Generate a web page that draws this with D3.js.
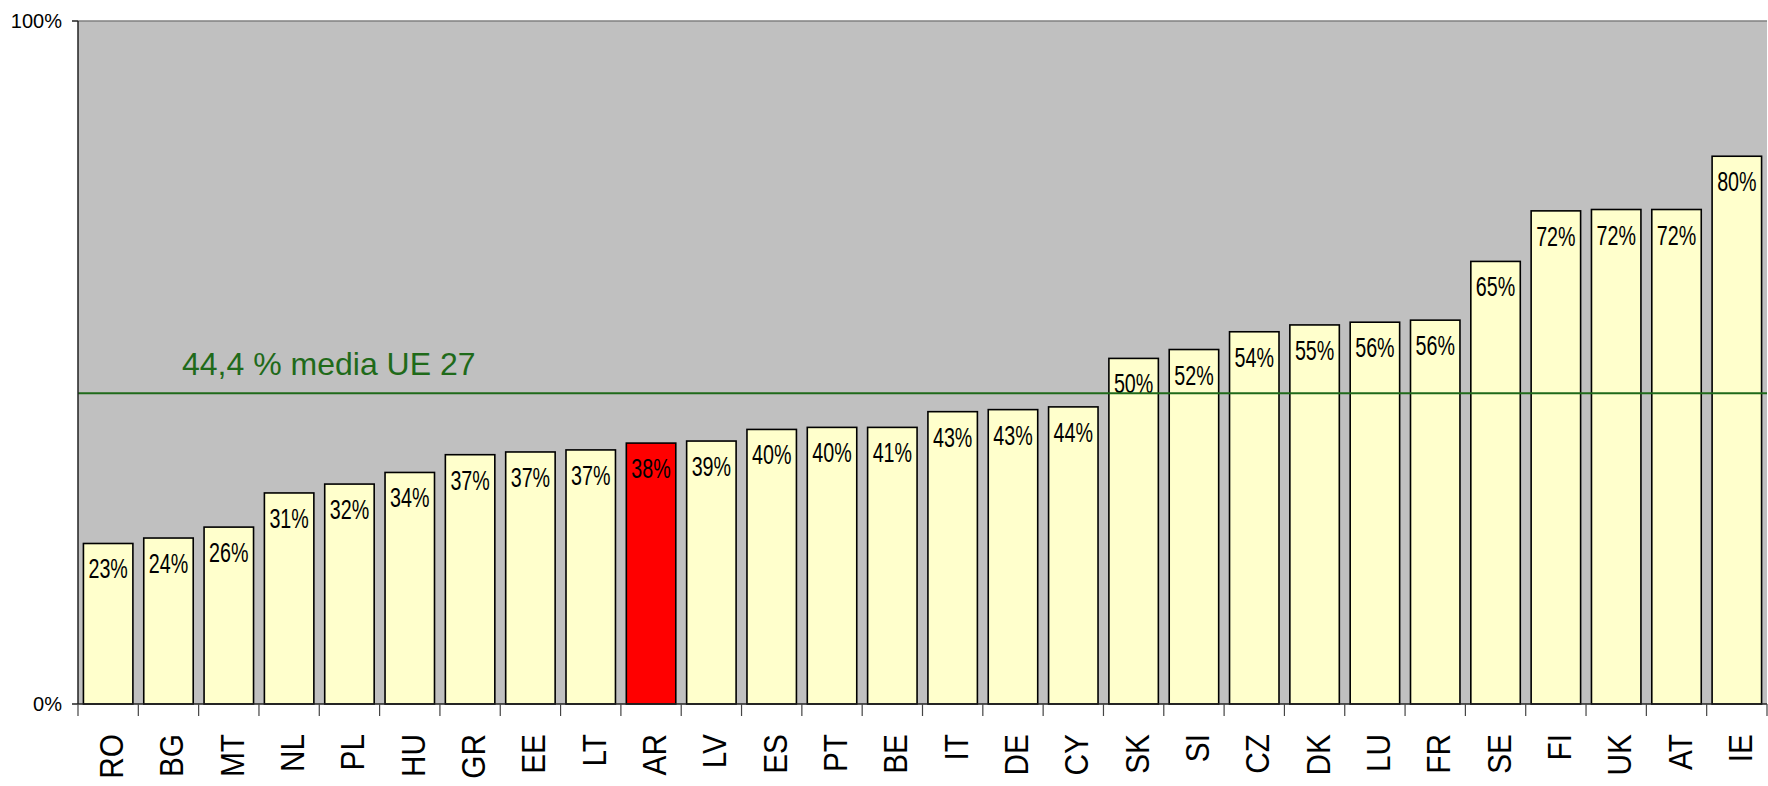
<!DOCTYPE html>
<html>
<head>
<meta charset="utf-8">
<script src="https://cdn.jsdelivr.net/npm/d3@7"></script>
<style>
	body { margin: 0; background: #fff; }
	svg { display: block; font-family: "Liberation Sans", Arial, sans-serif; }
</style>
</head>
<body>
<svg id="chart"></svg>
<script>
// Countries, sorted as in the original chart
const countries = ["RO", "BG", "MT", "NL", "PL", "HU", "GR", "EE", "LT", "AR", "LV", "ES", "PT", "BE",
	"IT", "DE", "CY", "SK", "SI", "CZ", "DK", "LU", "FR", "SE", "FI", "UK", "AT", "IE"];

// bar heights (%)
const values = [23.5, 24.3, 25.9, 30.9, 32.2, 33.9, 36.5, 36.9, 37.2, 38.2, 38.5, 40.2, 40.5, 40.5,
	42.8, 43.1, 43.5, 50.6, 51.9, 54.5, 55.5, 55.9, 56.2, 64.8, 72.2, 72.4, 72.4, 80.2];

// printed labels
const valueLabels = [23, 24, 26, 31, 32, 34, 37, 37, 37, 38, 39, 40, 40, 41,
	43, 43, 44, 50, 52, 54, 55, 56, 56, 65, 72, 72, 72, 80];

const highlighted = ["AR"];

// EU average reference line
const euLine = 45.5;
const euLabel = "44,4 % media UE 27";

const yTicks = [0, 100];

const config = {
	width: 1768,
	height: 786,
	margin: { left: 78, right: 1, top: 21, bottom: 82 }
};

const svg = d3.select("#chart")
	.attr("width", config.width)
	.attr("height", config.height);

const innerW = config.width - config.margin.left - config.margin.right;
const innerH = config.height - config.margin.top - config.margin.bottom;

const data = countries.map((c, i) => ({ country: c, value: values[i], label: valueLabels[i] }));

const xScale = d3.scaleBand()
	.domain(countries)
	.range([0, innerW])
	.paddingInner(0.18)
	.paddingOuter(0.09);

const yScale = d3.scaleLinear()
	.domain([0, 100])
	.range([innerH, 0]);

const chartArea = svg.append("g")
	.attr("transform", `translate(${config.margin.left},${config.margin.top})`);

// plot background
chartArea.append("rect")
	.attr("width", innerW)
	.attr("height", innerH)
	.attr("fill", "#c0c0c0");

chartArea.append("line")
	.attr("x1", 0).attr("x2", innerW)
	.attr("y1", yScale(100)).attr("y2", yScale(100))
	.attr("stroke", "#808080")
	.attr("stroke-width", 1.5);

// bars
chartArea.selectAll(".bar")
	.data(data)
	.join("rect")
	.attr("class", "bar")
	.attr("x", d => xScale(d.country))
	.attr("y", d => yScale(d.value))
	.attr("width", xScale.bandwidth())
	.attr("height", d => innerH - yScale(d.value))
	.attr("fill", d => highlighted.includes(d.country) ? "#ff0000" : "#ffffcc")
	.attr("stroke", "#000")
	.attr("stroke-width", 1.6);

// value labels, inside the top of each bar
chartArea.selectAll(".val")
	.data(data)
	.join("text")
	.attr("class", "val")
	.attr("transform", d => `translate(${xScale(d.country) + xScale.bandwidth() / 2},${yScale(d.value) + 35}) scale(0.73,1)`)
	.attr("text-anchor", "middle")
	.style("font-size", "27px")
	.attr("fill", "#000")
	.text(d => d.label + "%");

// EU average line
chartArea.append("line")
	.attr("x1", 0).attr("x2", innerW)
	.attr("y1", yScale(euLine)).attr("y2", yScale(euLine))
	.attr("stroke", "#1f6a1a")
	.attr("stroke-width", 2);

chartArea.append("text")
	.attr("x", 104)
	.attr("y", yScale(euLine) - 18)
	.attr("fill", "#1f6a1a")
	.style("font-size", "32px")
	.text(euLabel);

// axes
chartArea.append("line")
	.attr("x1", 0).attr("x2", 0)
	.attr("y1", 0).attr("y2", innerH)
	.attr("stroke", "#222")
	.attr("stroke-width", 1.5);

chartArea.append("line")
	.attr("x1", 0).attr("x2", innerW)
	.attr("y1", innerH).attr("y2", innerH)
	.attr("stroke", "#222")
	.attr("stroke-width", 1.5);

const yTickG = chartArea.selectAll(".ytick")
	.data(yTicks)
	.join("g")
	.attr("class", "ytick")
	.attr("transform", d => `translate(0,${yScale(d)})`);

yTickG.append("line")
	.attr("x1", -6).attr("x2", 0)
	.attr("stroke", "#222")
	.attr("stroke-width", 1.5);

yTickG.append("text")
	.attr("x", -16)
	.attr("dy", "0.35em")
	.attr("text-anchor", "end")
	.style("font-size", "20px")
	.text(d => d + "%");

// x ticks at band boundaries
const boundaries = d3.range(countries.length + 1).map(i => i * xScale.step());

chartArea.selectAll(".xtick")
	.data(boundaries)
	.join("line")
	.attr("class", "xtick")
	.attr("x1", d => d).attr("x2", d => d)
	.attr("y1", innerH).attr("y2", innerH + 12)
	.attr("stroke", "#444")
	.attr("stroke-width", 1.2);

// rotated country labels
chartArea.selectAll(".cat")
	.data(countries)
	.join("text")
	.attr("class", "cat")
	.attr("transform", d => `translate(${xScale(d) + xScale.bandwidth() / 2 + 15},${innerH + 30}) rotate(-90) scale(0.89,1)`)
	.attr("text-anchor", "end")
	.style("font-size", "33.5px")
	.attr("fill", "#000")
	.text(d => d);
</script>
</body>
</html>
